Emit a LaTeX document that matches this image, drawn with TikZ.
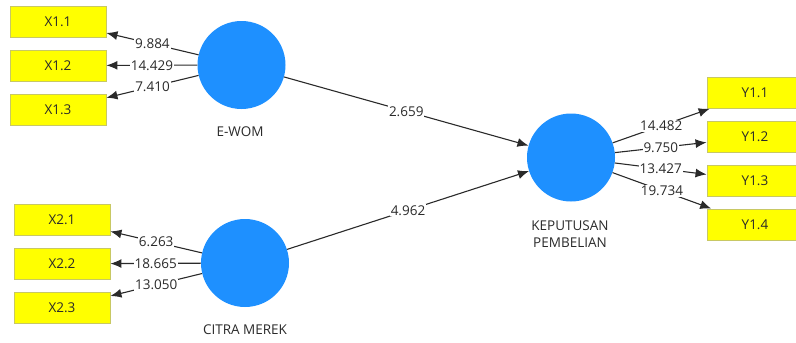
\documentclass[tikz,border=0pt]{standalone}
\usepackage{fontspec}
\setmainfont{Open Sans}
\usetikzlibrary{arrows.meta,positioning}
\definecolor{PlsBlue}{HTML}{1E90FF}
\definecolor{PlsYellow}{HTML}{FFFF00}
\definecolor{PlsEdge}{HTML}{C8C864}
\definecolor{PlsInk}{HTML}{2A2A2A}
\tikzset{
  indicator/.style={draw=PlsEdge, fill=PlsYellow, line width=0.9pt, minimum width=96pt,
                    minimum height=31pt, inner sep=0pt, text=PlsInk},
  construct/.style={circle, fill=PlsBlue, minimum size=88pt, inner sep=0pt},
  cname/.style={text=PlsInk, align=center},
  loading/.style={-{Latex[length=11pt,width=9pt]}, line width=1.1pt, draw=PlsInk},
  coef/.style={midway, fill=white, inner sep=1pt, text=PlsInk},
}

\begin{document}
\begin{tikzpicture}[x=1pt,y=-1pt,font=\fontsize{13.5}{17.7}\selectfont]
  \clip (0,0) rectangle (796,343);
  % constructs
  \node[construct] (ewom) at (241.5,65) {};
  \node[construct] (citra) at (245,263) {};
  \node[construct] (kep) at (571,157.5) {};
  \node[cname] (ewomtxt) at (240,132) {E-WOM};
  \node[cname] (citratxt) at (245,330) {CITRA MEREK};
  \node[cname] (keptxt) at (570,234) {KEPUTUSAN\\PEMBELIAN};
  % indicators
  \foreach \i/\y in {1/21.5, 2/65.5, 3/109.5}
    \node[indicator] (x1\i) at (58,\y) {X1.\i};
  \foreach \i/\y in {1/220, 2/263.8, 3/307.8}
    \node[indicator] (x2\i) at (62,\y) {X2.\i};
  \foreach \i/\y in {1/92.8, 2/137, 3/180.5, 4/224.5}
    \node[indicator] (y1\i) at (755,\y) {Y1.\i};
  % outer loadings
  \foreach \i/\v in {1/9.884, 2/14.429, 3/7.410}
    \draw[loading] (ewom) -- node[coef] {\v} (x1\i);
  \foreach \i/\v in {1/6.263, 2/18.665, 3/13.050}
    \draw[loading] (citra) -- node[coef] {\v} (x2\i);
  \foreach \i/\v in {1/14.482, 2/9.750, 3/13.427, 4/19.734}
    \draw[loading] (kep) -- node[coef] {\v} (y1\i);
  % inner model
  \draw[loading] (ewom) -- node[coef] {2.659} (kep);
  \draw[loading] (citra) -- node[coef] {4.962} (kep);
\end{tikzpicture}
\end{document}
